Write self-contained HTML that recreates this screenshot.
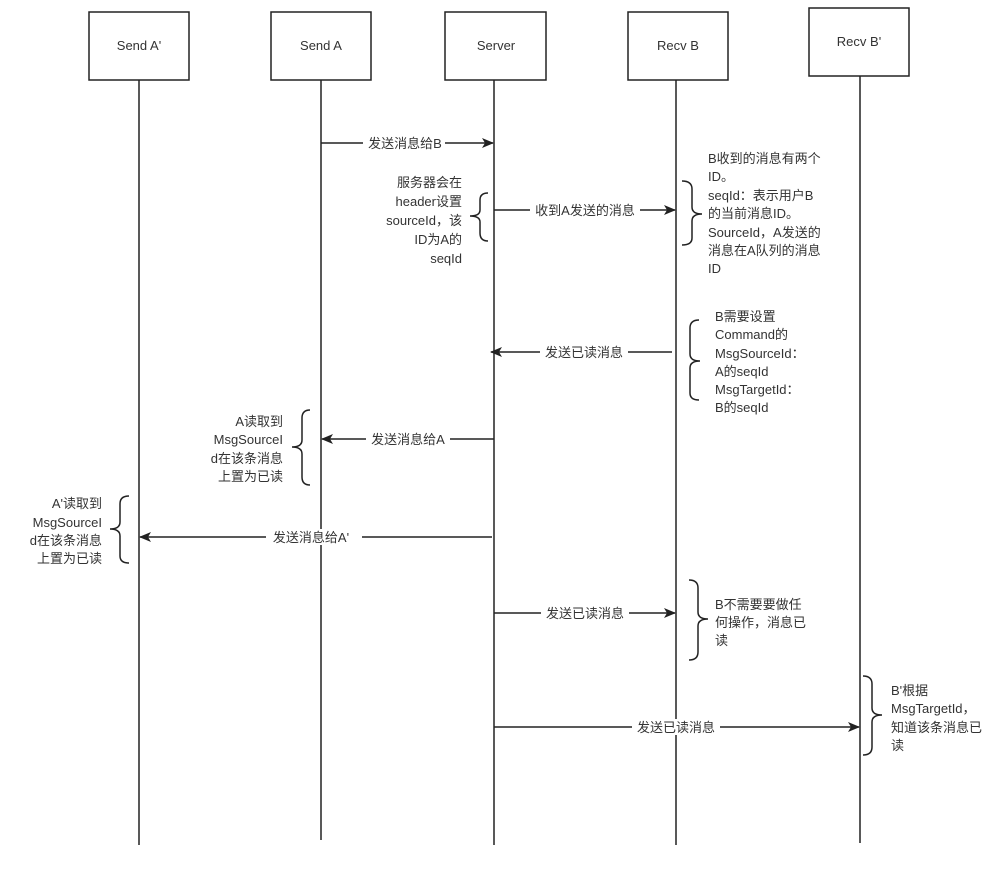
<!DOCTYPE html>
<html><head><meta charset="utf-8"><style>
body{margin:0;background:#fff;}
text{font-family:"Liberation Sans","Noto Sans CJK SC",sans-serif;font-size:13px;fill:#333;}
</style></head><body>
<svg width="1006" height="865" xmlns="http://www.w3.org/2000/svg">
<defs><marker id="a" markerWidth="12" markerHeight="10" refX="11" refY="5" orient="auto" markerUnits="userSpaceOnUse"><path d="M0,0 L12,5 L0,10 L3,5 Z" fill="#222"/></marker></defs>
<g fill="#fff" stroke="#222" stroke-width="1.5">
<rect x="89" y="12" width="100" height="68"/>
<rect x="271" y="12" width="100" height="68"/>
<rect x="445" y="12" width="101" height="68"/>
<rect x="628" y="12" width="100" height="68"/>
<rect x="809" y="8" width="100" height="68"/>
</g>
<g stroke="#222" stroke-width="1.5">
<line x1="139" y1="80" x2="139" y2="845"/>
<line x1="321" y1="80" x2="321" y2="840"/>
<line x1="494" y1="80" x2="494" y2="845"/>
<line x1="676" y1="80" x2="676" y2="845"/>
<line x1="860" y1="76" x2="860" y2="843"/>
</g>
<g text-anchor="middle">
<text x="139" y="50">Send A'</text>
<text x="321" y="50">Send A</text>
<text x="496" y="50">Server</text>
<text x="678" y="50">Recv B</text>
<text x="859" y="46">Recv B'</text>
</g>
<g stroke="#222" stroke-width="1.5" marker-end="url(#a)">
<line x1="321" y1="143" x2="493" y2="143"/>
<line x1="494" y1="210" x2="675" y2="210"/>
<line x1="672" y1="352" x2="491" y2="352"/>
<line x1="494" y1="439" x2="322" y2="439"/>
<line x1="492" y1="537" x2="140" y2="537"/>
<line x1="494" y1="613" x2="675" y2="613"/>
<line x1="494" y1="727" x2="859" y2="727"/>
</g>
<g text-anchor="middle">
<rect x="363" y="135" width="82" height="16" fill="#fff"/><text x="405" y="148">发送消息给B</text>
<rect x="530" y="202" width="110" height="16" fill="#fff"/><text x="585" y="215">收到A发送的消息</text>
<rect x="540" y="344" width="88" height="16" fill="#fff"/><text x="584" y="357">发送已读消息</text>
<rect x="366" y="431" width="84" height="16" fill="#fff"/><text x="408" y="444">发送消息给A</text>
<rect x="266" y="529" width="96" height="16" fill="#fff"/><text x="311" y="542">发送消息给A'</text>
<rect x="541" y="605" width="88" height="16" fill="#fff"/><text x="585" y="618">发送已读消息</text>
<rect x="632" y="719" width="88" height="16" fill="#fff"/><text x="676" y="732">发送已读消息</text>
</g>
<g fill="none" stroke="#222" stroke-width="1.5">
<path d="M488,193 Q480,193 480,200 L480,210 Q480,216 470,216 Q480,216 480,222 L480,233 Q480,241 488,241"/>
<path d="M682,181 Q692,181 692,189 L692,207 Q692,214 702,214 Q692,214 692,221 L692,238 Q692,245 682,245"/>
<path d="M699,320 Q690,320 690,328 L690,354 Q690,361 700,361 Q690,361 690,368 L690,393 Q690,400 699,400"/>
<path d="M310,410 Q302,410 302,418 L302,440 Q302,447 292,447 Q302,447 302,454 L302,477 Q302,485 310,485"/>
<path d="M129,496 Q120,496 120,504 L120,522 Q120,529 110,529 Q120,529 120,536 L120,556 Q120,563 129,563"/>
<path d="M689,580 Q698,580 698,588 L698,612 Q698,619 708,619 Q698,619 698,626 L698,652 Q698,660 689,660"/>
<path d="M863,676 Q872,676 872,684 L872,708 Q872,715 882,715 Q872,715 872,722 L872,747 Q872,755 863,755"/>
</g>
<g text-anchor="end">
<text x="462" y="187">服务器会在</text><text x="462" y="206">header设置</text><text x="462" y="225">sourceId，该</text><text x="462" y="244">ID为A的</text><text x="462" y="263">seqId</text>
<text x="283" y="426">A读取到</text><text x="283" y="444">MsgSourceI</text><text x="283" y="463">d在该条消息</text><text x="283" y="481">上置为已读</text>
<text x="102" y="508">A'读取到</text><text x="102" y="527">MsgSourceI</text><text x="102" y="545">d在该条消息</text><text x="102" y="563">上置为已读</text>
</g>
<g>
<text x="708" y="163">B收到的消息有两个</text><text x="708" y="181">ID。</text><text x="708" y="200">seqId：表示用户B</text><text x="708" y="218">的当前消息ID。</text><text x="708" y="237">SourceId，A发送的</text><text x="708" y="255">消息在A队列的消息</text><text x="708" y="273">ID</text>
<text x="715" y="321">B需要设置</text><text x="715" y="339">Command的</text><text x="715" y="358">MsgSourceId：</text><text x="715" y="376">A的seqId</text><text x="715" y="394">MsgTargetId：</text><text x="715" y="412">B的seqId</text>
<text x="715" y="609">B不需要要做任</text><text x="715" y="627">何操作，消息已</text><text x="715" y="645">读</text>
<text x="891" y="695">B'根据</text><text x="891" y="713">MsgTargetId，</text><text x="891" y="732">知道该条消息已</text><text x="891" y="750">读</text>
</g>
</svg>
</body></html>
